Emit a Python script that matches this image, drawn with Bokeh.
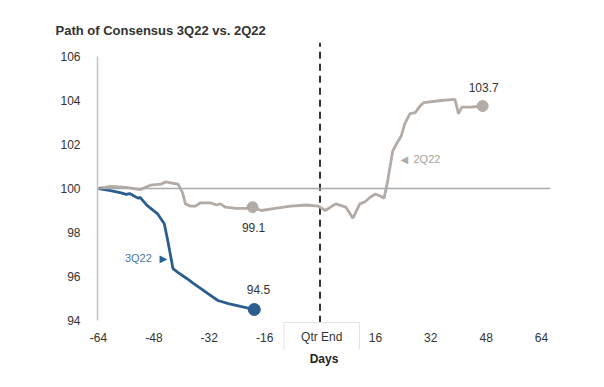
from bokeh.plotting import figure
from bokeh.models import Span, Label, FixedTicker, Range1d
from bokeh.core.properties import value
from bokeh.embed import file_html
from bokeh.resources import INLINE

# ---- data ----
q3_days = [-64, -60.5, -57.5, -56, -55, -52.5, -52, -50, -47, -45, -44, -42.5, -41, -38.5,
           -36.5, -34, -32.5, -29.5, -26.5, -23, -19]
q3_vals = [100.0, 99.9, 99.8, 99.73, 99.77, 99.55, 99.6, 99.23, 98.86, 98.4, 97.64, 96.36,
           96.18, 95.91, 95.68, 95.4, 95.23, 94.91, 94.77, 94.64, 94.5]

q2_days = [-64, -60.5, -56, -52, -49, -46, -44.5, -43, -41, -39.7, -38.9, -37.4, -36, -34.5,
           -31.6, -30, -28.8, -27.3, -24.4, -21.5, -19.5, -17, -13, -8.5, -4, -0.5, 1.5, 4.5,
           7.5, 9.5, 11.5, 13, 14.5, 16, 17.5, 18.5, 19.5, 21, 22, 23.5, 24.5, 26, 27.5, 29,
           30, 35, 39, 40, 41, 43.5, 47]
q2_vals = [100.0, 100.1, 100.05, 99.95, 100.15, 100.2, 100.3, 100.25, 100.2, 99.8, 99.3, 99.2,
           99.2, 99.35, 99.35, 99.25, 99.3, 99.15, 99.1, 99.1, 99.15, 99.0, 99.1, 99.2, 99.25,
           99.2, 99.0, 99.3, 99.15, 98.65, 99.3, 99.4, 99.6, 99.75, 99.65, 99.55, 100.3, 101.7,
           102.0, 102.4, 102.95, 103.4, 103.45, 103.77, 103.9, 104.0, 104.05, 103.4, 103.7,
           103.7, 103.75]

q3_end = (-19, 94.5)
q2_mid = (-19.5, 99.15)
q2_end = (47, 103.75)
end_labels = ["94.5", "99.1", "103.7"]

x_ticks = [-64, -48, -32, -16, 16, 32, 48, 64]
x_tick_labels = ["-64", "-48", "-32", "-16", "16", "32", "48", "64"]
y_ticks = [94, 96, 98, 100, 102, 104, 106]

BLUE = "#2c5d8f"
GRAY = "#b2aba6"
FONT = "Liberation Sans"

Y_BOTTOM = 100 - (349 - 188) / 22
Y_TOP = 100 + (188 - 42) / 22
DASH_BOTTOM = 93.9

p = figure(width=596, height=379, output_backend="svg", toolbar_location=None,
           x_range=Range1d(-64.3, 66.6), y_range=Range1d(Y_BOTTOM, Y_TOP),
           min_border_left=97, min_border_right=46, min_border_top=42, min_border_bottom=30)
p.outline_line_color = None
p.xgrid.visible = False
p.ygrid.visible = False
p.background_fill_color = "white"
p.border_fill_color = "white"

# title
p.title.text = "Path of Consensus 3Q22 vs. 2Q22"
p.title.text_font = FONT
p.title.text_font_style = "bold"
p.title.text_font_size = "13px"
p.title.text_color = "#333333"
p.title.align = "left"
p.title.offset = -42

# y axis
p.yaxis.ticker = FixedTicker(ticks=y_ticks)
p.yaxis.bounds = (94, 106)
p.yaxis.axis_line_color = "#c4c4c4"
p.yaxis.axis_line_width = 1.5
p.yaxis.major_tick_line_color = None
p.yaxis.minor_tick_line_color = None
p.yaxis.major_label_standoff = 11
p.yaxis.major_label_text_font = FONT
p.yaxis.major_label_text_font_size = "12px"
p.yaxis.major_label_text_color = "#333333"

# x axis
p.xaxis.ticker = FixedTicker(ticks=x_ticks)
p.xaxis.major_label_overrides = dict(zip(x_ticks, x_tick_labels))
p.xaxis.axis_line_color = None
p.xaxis.major_tick_line_color = None
p.xaxis.minor_tick_line_color = None
p.xaxis.major_label_standoff = -23
p.xaxis.major_label_text_font = FONT
p.xaxis.major_label_text_font_size = "12px"
p.xaxis.major_label_text_color = "#333333"
p.xaxis.axis_label = "Days"
p.xaxis.axis_label_text_font = FONT
p.xaxis.axis_label_text_font_style = "bold"
p.xaxis.axis_label_text_font_size = "12px"
p.xaxis.axis_label_text_color = "#222222"
p.xaxis.axis_label_standoff = 7

# reference lines
p.add_layout(Span(location=100, dimension="width", line_color="#a9a9a9", line_width=1.5))
p.segment(x0=[0], y0=[DASH_BOTTOM], x1=[0], y1=[Y_TOP], line_color="#333333", line_width=2,
          line_dash="7 5")

# series
p.line(q2_days, q2_vals, line_color=GRAY, line_width=2.8)
p.line(q3_days, q3_vals, line_color=BLUE, line_width=2.8)
p.scatter([q2_mid[0], q2_end[0]], [q2_mid[1], q2_end[1]], size=11, color=GRAY)
p.scatter([q3_end[0]], [q3_end[1]], size=12, color=BLUE)

# value labels
p.text([-17.8, -19.2, 47.3], [95.41, 98.23, 104.59], text=end_labels,
       text_align="center", text_baseline="middle", text_font=value(FONT),
       text_font_size="12px", text_color="#333333")

# series labels
p.text([-48.6], [96.82], text=["3Q22"], text_align="right", text_baseline="middle",
       text_font=value(FONT), text_font_size="11px", text_color="#4a77a3")
p.text([-45.3], [96.82], text=["▶"], text_align="center", text_baseline="middle",
       text_font=value("DejaVu Sans"), text_font_size="10px", text_color=BLUE)
p.text([27.0], [101.32], text=["2Q22"], text_align="left", text_baseline="middle",
       text_font=value(FONT), text_font_size="11px", text_color="#a8a29d")
p.text([24.4], [101.32], text=["◀"], text_align="center", text_baseline="middle",
       text_font=value("DejaVu Sans"), text_font_size="10px", text_color=GRAY)

# quarter-end tick label box
p.add_layout(Label(x=0.5, y=13, y_units="screen", text="Qtr End", text_align="center",
                   text_baseline="middle", text_font=FONT, text_font_size="12px",
                   text_color="#333333", border_line_color="#e2e2e2",
                   background_fill_color="white", padding=(17, 7)))

open("out.html", "w").write(file_html(p, INLINE))
